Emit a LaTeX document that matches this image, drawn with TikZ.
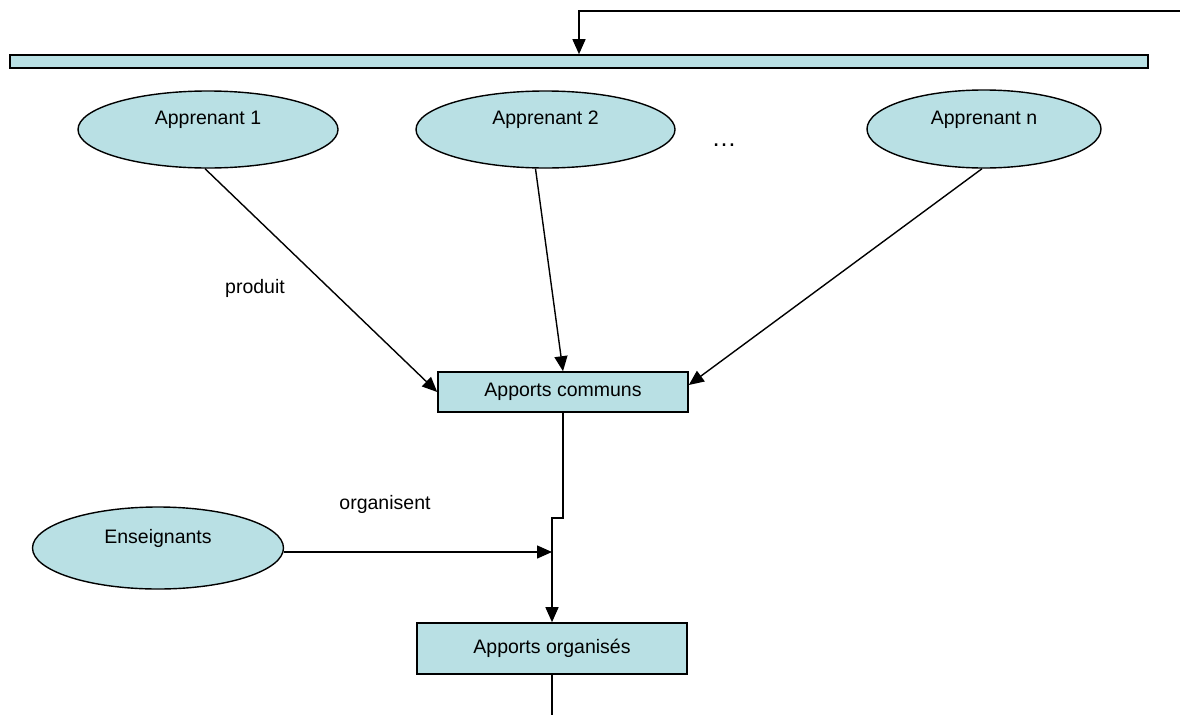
\documentclass[tikz,border=0pt]{standalone}
\usepackage{fontspec}
\setmainfont{Liberation Sans}
\usetikzlibrary{shapes.geometric,arrows.meta}
\definecolor{fillblue}{RGB}{185,224,228}
\tikzset{
  every node/.style={font=\fontsize{19.5}{23}\selectfont},
  arr/.style={line width=1.4pt,-{Triangle[length=15pt,width=13pt]}},
  plain/.style={line width=1.4pt},
  oval/.style={ellipse,draw=black,line width=1.4pt,fill=fillblue,inner sep=0pt},
  boxnode/.style={rectangle,draw=black,line width=1.6pt,fill=fillblue,inner sep=0pt},
  lbl/.style={inner sep=0pt}
}
\begin{document}
\begin{tikzpicture}[x=1pt,y=-1pt]
\useasboundingbox (0,0) rectangle (1180,715);
% bar
\node[boxnode,minimum width=1138pt,minimum height=13pt] (bar) at (579,61.5) {};
% ellipses
\node[oval,minimum width=260pt,minimum height=77pt,label={[lbl,yshift=10pt]center:Apprenant 1}] (a1) at (208,129.5) {};
\node[oval,minimum width=259pt,minimum height=77pt,label={[lbl,yshift=10pt]center:Apprenant 2}] (a2) at (545.5,129.5) {};
\node[oval,minimum width=234pt,minimum height=78pt,label={[lbl,yshift=9.5pt]center:Apprenant n}] (an) at (984,129) {};
\node[lbl,font=\fontsize{25}{28}\selectfont] (dots) at (724,145) {…};
\node[oval,minimum width=251pt,minimum height=82pt,label={[lbl,yshift=10pt]center:Enseignants}] (en) at (158,548) {};
% boxes
\node[boxnode,minimum width=250pt,minimum height=40pt] (ac) at (563,392) {Apports communs};
\node[boxnode,minimum width=270pt,minimum height=51pt] (ao) at (552,648.5) {Apports organisés};
% labels
\node[lbl] (produit) at (255,288) {produit};
\node[lbl] (organisent) at (385,504) {organisent};
% top connector
\coordinate (tr) at (1180,11);
\draw[arr] (tr) -| (bar.north);
% apprenants to apports communs
\draw[arr] ([xshift=-3pt]a1.south) -- (ac.west);
\draw[arr] ([xshift=-10pt]a2.south) -- (ac.north);
\draw[arr] ([xshift=-2pt]an.south) -- ([yshift=7pt]ac.east);
% apports communs to apports organises
\draw[arr] (ac.south) -- ++(0,105) -| (ao.north);
% enseignants
\draw[arr] ([yshift=-4pt]en.east) -- ([yshift=-4pt]en.east -| ao.north);
% bottom
\coordinate (bot) at (552,715);
\draw[plain] (ao.south) -- (bot);
\end{tikzpicture}
\end{document}
